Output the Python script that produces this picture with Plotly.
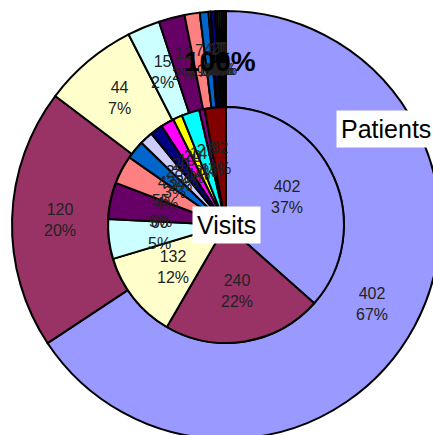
import math
import plotly.graph_objects as go

# ---- data ----
categories = ["C1", "C2", "C3", "C4", "C5", "C6", "C7", "C8", "C9", "C10", "C11", "C12", "C13", "C14"]
patients = [402, 120, 44, 15, 12, 7, 4, 1, 2, 1, 1, 1, 1, 1]
patients_pct_labels = ["67%", "20%", "7%", "2%", "2%", "1%", "1%", "0%", "0%", "0%", "0%", "0%", "0%", "0%"]
visits = [402, 240, 132, 60, 55, 43, 28, 20, 19, 20, 14, 27, 8, 32]
visits_pct_labels = ["37%", "22%", "12%", "5%", "5%", "4%", "3%", "2%", "2%", "2%", "1%", "2%", "1%", "3%"]
colors = ["#9999FF", "#993366", "#FFFFCC", "#CCFFFF", "#660066", "#FF8080", "#0066CC",
          "#CCCCFF", "#000080", "#FF00FF", "#FFFF00", "#00FFFF", "#800080", "#800000"]

# ---- layout geometry ----
L, R, T, B = 12, 12, 11, 11
D = 428  # domain size in px (outer radius 214)
W, H = L + D + R, T + D + B
hole = 0.551
CX, CY = L + D / 2, T + D / 2
R_OUT = D / 2
R_IN = R_OUT * hole


def px(x):
    return (x - L) / D


def py(y):
    return 1 - (y - T) / D


font_family = "Arial, Liberation Sans, sans-serif"
line = dict(color="black", width=2)

fig = go.Figure()
fig.add_trace(go.Pie(
    labels=categories, values=patients, hole=hole, sort=False, direction="clockwise",
    marker=dict(colors=colors, line=line), textinfo="none",
    domain=dict(x=[0, 1], y=[0, 1]), showlegend=False, hoverinfo="label+value+percent",
))
c = 0.5
fig.add_trace(go.Pie(
    labels=categories, values=visits, sort=False, direction="clockwise",
    marker=dict(colors=colors, line=line), textinfo="none",
    domain=dict(x=[c - hole / 2, c + hole / 2], y=[c - hole / 2, c + hole / 2]),
    showlegend=False, hoverinfo="label+value+percent",
))


def add_slice_labels(values, pct_labels, radius):
    total = sum(values)
    cum = 0
    for v, p in zip(values, pct_labels):
        if v > 0:
            theta = 2 * math.pi * (cum + v / 2) / total
            x = CX + radius * math.sin(theta)
            y = CY - radius * math.cos(theta)
            fig.add_annotation(x=px(x), y=py(y), xref="paper", yref="paper",
                               text=f"{v}<br>{p}", showarrow=False,
                               xanchor="center", yanchor="middle",
                               font=dict(family=font_family, size=16, color="#222222"))
        cum += v


add_slice_labels(patients, patients_pct_labels, (R_OUT + R_IN) / 2)
add_slice_labels(visits, visits_pct_labels, R_IN * 0.57)

fig.add_annotation(x=px(386), y=py(129), xref="paper", yref="paper", text="Patients",
                   showarrow=False, bgcolor="white", borderpad=4,
                   xanchor="center", yanchor="middle",
                   font=dict(family=font_family, size=25, color="black"))
fig.add_annotation(x=px(226), y=py(225), xref="paper", yref="paper", text="Visits",
                   showarrow=False, bgcolor="white", borderpad=4,
                   xanchor="center", yanchor="middle",
                   font=dict(family=font_family, size=25, color="black"))
fig.add_annotation(x=px(220), y=py(62), xref="paper", yref="paper", text="<b>100%</b>",
                   showarrow=False, xanchor="center", yanchor="middle",
                   font=dict(family=font_family, size=28, color="black"))

fig.update_layout(
    width=W, height=H, autosize=False,
    margin=dict(l=L, r=R, t=T, b=B, pad=0),
    paper_bgcolor="white", plot_bgcolor="white",
)

fig.write_html("out.html", config={"displayModeBar": False},
               post_script="document.body.style.margin='0';document.body.style.overflow='hidden';")
